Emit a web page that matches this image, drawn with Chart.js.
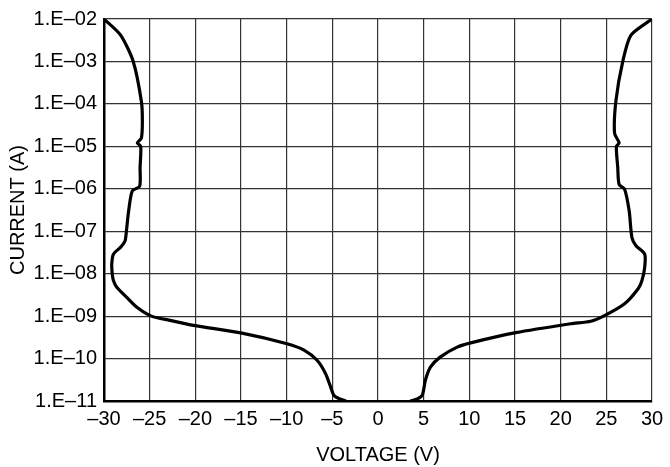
<!DOCTYPE html>
<html lang="en">
<head>
<meta charset="UTF-8">
<title>Current vs Voltage</title>
<script src="https://cdn.jsdelivr.net/npm/chart.js"></script>
<style>
    body { margin: 0; background: #fff; }
    #wrap { width: 670px; height: 467px; }
</style>
</head>
<body>
<div id="wrap"><canvas id="ivChart" width="670" height="467"></canvas></div>
<script>
// Negative branch, read top to bottom (voltage in V, log10 of current in A)
const leftVolts = [-30, -28.2, -26.8, -25.9, -25.8, -25.9, -26.35, -25.98, -26.05, -26.1, -26.9, -27.3,
    -27.55, -27.7, -28.2, -28.97, -29.15, -29.1, -28.97, -28.6, -27.5, -26.4, -24.8, -22.8, -20.2,
    -14.9, -9.96, -8.1, -6.67, -5.75, -5.2, -4.85, -4.3, -3.5];
const leftLogAmps = [-2, -2.375, -3.0, -3.95, -4.4, -4.8, -4.92, -5.0, -5.5, -5.94, -6.05, -6.52,
    -7.0, -7.23, -7.38, -7.54, -7.77, -8.0, -8.16, -8.32, -8.56, -8.79, -9.0, -9.10, -9.22,
    -9.40, -9.65, -9.80, -10.04, -10.35, -10.66, -10.86, -10.94, -11.0];

// Positive branch
const rightVolts = [30, 27.7, 26.8, 26.05, 25.9, 26.4, 26.1, 26.25, 26.4, 27.0, 27.5, 27.8, 28.25, 29.2,
    29.2, 28.9, 28.5, 27.0, 24.7, 23.3, 21.1, 15.1, 10.15, 8.67, 6.84, 5.74, 5.2, 4.85, 4.3, 3.55];
const rightLogAmps = [-2, -2.38, -3.0, -3.93, -4.69, -4.92, -5.0, -5.5, -5.9, -6.01, -6.52, -7.15, -7.34, -7.54,
    -7.85, -8.16, -8.35, -8.71, -9.0, -9.12, -9.18, -9.39, -9.63, -9.73, -9.96, -10.2, -10.5, -10.86, -10.95, -11.0];

const yTickValues = [1e-11, 1e-10, 1e-9, 1e-8, 1e-7, 1e-6, 1e-5, 1e-4, 1e-3, 1e-2];
const yTickLabels = ['1.E\u201311', '1.E\u201310', '1.E\u201309', '1.E\u201308', '1.E\u201307',
    '1.E\u201306', '1.E\u201305', '1.E\u201304', '1.E\u201303', '1.E\u201302'];

function toPoints(volts, logs) {
    return volts.map((v, i) => ({ x: v, y: Math.pow(10, logs[i]) }));
}

const lineStyle = {
    showLine: true,
    borderColor: '#000',
    borderWidth: 3.2,
    pointRadius: 0,
    tension: 0.25,
    fill: false
};

const font = { family: 'Liberation Sans, Arial, sans-serif', size: 20 };

const ctx = document.getElementById('ivChart').getContext('2d');
new Chart(ctx, {
    type: 'scatter',
    data: {
        datasets: [
            Object.assign({ data: toPoints(leftVolts, leftLogAmps) }, lineStyle),
            Object.assign({ data: toPoints(rightVolts, rightLogAmps) }, lineStyle)
        ]
    },
    options: {
        responsive: false,
        animation: false,
        layout: { padding: { left: 6, right: 18, top: 17, bottom: 0 } },
        plugins: { legend: { display: false }, tooltip: { enabled: false } },
        scales: {
            x: {
                type: 'linear',
                min: -30,
                max: 30,
                afterFit: scale => { scale.height = 66; },
                ticks: {
                    stepSize: 5,
                    color: '#000',
                    font: font,
                    padding: 6,
                    maxRotation: 0,
                    callback: v => String(v).replace('-', '\u2013')
                },
                grid: { color: '#333', lineWidth: 1.2, drawTicks: false },
                border: { color: '#000', width: 2.5 },
                title: {
                    display: true,
                    text: 'VOLTAGE (V)',
                    color: '#000',
                    font: font,
                    padding: { top: 12, bottom: 0 }
                }
            },
            y: {
                type: 'logarithmic',
                min: 1e-11,
                max: 1e-2,
                afterBuildTicks: scale => {
                    scale.ticks = yTickValues.map(v => ({ value: v }));
                },
                afterFit: scale => { scale.width = 98; },
                ticks: {
                    color: '#000',
                    font: font,
                    padding: 7,
                    autoSkip: false,
                    callback: (v, i) => yTickLabels[i]
                },
                grid: { color: '#333', lineWidth: 1.2, drawTicks: false },
                border: { color: '#000', width: 2.5 },
                title: {
                    display: true,
                    text: 'CURRENT (A)',
                    color: '#000',
                    font: font,
                    padding: { top: 0, bottom: 0 }
                }
            }
        }
    }
});
</script>
</body>
</html>
